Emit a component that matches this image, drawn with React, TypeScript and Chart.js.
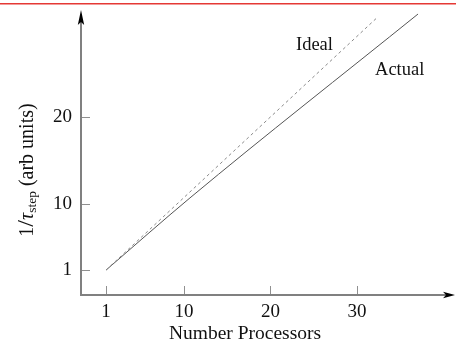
import React, { useEffect, useRef } from "react";
import { Chart, registerables } from "chart.js";

Chart.register(...registerables);

// ---- data ----
const xTickValues = [1, 10, 20, 30];
const xTickLabels = ["1", "10", "20", "30"];
const yTickValues = [2.4, 10, 20];
const yTickLabels = ["1", "10", "20"];

const idealX = [1, 32.4];
const idealY = [2.4, 31.5];
const actualX = [1, 10.7, 37.05];
const actualY = [2.4, 10.7, 31.84];

const seriesNames = ["Ideal", "Actual"];
const labelAnchorX = [22.95, 32.08];
const labelAnchorY = [28.3, 25.4];

const xTitle = "Number Processors";

const FONT = "'Liberation Serif', 'Times New Roman', serif";

const decorPlugin = {
  id: "decor",
  afterDraw(chart: any) {
    const ctx = chart.ctx as CanvasRenderingContext2D;
    const xs = chart.scales.x;
    const ys = chart.scales.y;
    const ca = chart.chartArea;
    const axisX = ca.left;
    const axisY = ca.bottom;
    ctx.save();

    // red top rule
    ctx.fillStyle = "#e53935";
    ctx.fillRect(0, 3, chart.width, 1.5);

    // axes
    ctx.strokeStyle = "#808080";
    ctx.lineWidth = 2;
    ctx.beginPath();
    ctx.moveTo(axisX, axisY);
    ctx.lineTo(axisX, ca.top + 8);
    ctx.moveTo(axisX - 1, axisY);
    ctx.lineTo(ca.right - 6, axisY);
    ctx.stroke();

    // arrowheads
    ctx.fillStyle = "#000";
    ctx.beginPath();
    ctx.moveTo(axisX, ca.top);
    ctx.lineTo(axisX + 3.2, ca.top + 15);
    ctx.lineTo(axisX, ca.top + 12);
    ctx.lineTo(axisX - 3.2, ca.top + 15);
    ctx.closePath();
    ctx.fill();
    ctx.beginPath();
    ctx.moveTo(ca.right, axisY);
    ctx.lineTo(ca.right - 12, axisY - 3.2);
    ctx.lineTo(ca.right - 9, axisY);
    ctx.lineTo(ca.right - 12, axisY + 3.2);
    ctx.closePath();
    ctx.fill();

    // inner tick marks
    ctx.strokeStyle = "#909090";
    ctx.lineWidth = 1;
    ctx.beginPath();
    for (const v of xTickValues) {
      const px = Math.round(xs.getPixelForValue(v)) + 0.5;
      ctx.moveTo(px, axisY - 1);
      ctx.lineTo(px, axisY - 9);
    }
    for (const v of yTickValues) {
      const py = Math.round(ys.getPixelForValue(v)) + 0.5;
      ctx.moveTo(axisX + 1, py);
      ctx.lineTo(axisX + 9, py);
    }
    ctx.stroke();

    // series labels
    ctx.fillStyle = "#111";
    ctx.font = `18.5px ${FONT}`;
    ctx.textAlign = "left";
    ctx.textBaseline = "middle";
    seriesNames.forEach((n, i) => {
      ctx.fillText(n, xs.getPixelForValue(labelAnchorX[i]), ys.getPixelForValue(labelAnchorY[i]));
    });

    // x title
    ctx.font = `19.5px ${FONT}`;
    ctx.textAlign = "center";
    ctx.textBaseline = "alphabetic";
    ctx.fillText(xTitle, 245, 339);

    // y title: 1/τ_step (arb units)
    ctx.translate(27, 170);
    ctx.rotate(-Math.PI / 2);
    const parts: { t: string; f: string; dy: number }[] = [
      { t: "1", f: `20px ${FONT}`, dy: 0 },
      { t: "/", f: `24px ${FONT}`, dy: 0 },
      { t: "τ", f: `italic 20px ${FONT}`, dy: 0 },
      { t: "step", f: `13.5px ${FONT}`, dy: 3 },
      { t: " (arb units)", f: `20px ${FONT}`, dy: 0 },
    ];
    let total = 0;
    for (const p of parts) {
      ctx.font = p.f;
      total += ctx.measureText(p.t).width;
    }
    let cx = -total / 2;
    ctx.textAlign = "left";
    ctx.textBaseline = "alphabetic";
    for (const p of parts) {
      ctx.font = p.f;
      ctx.fillText(p.t, cx, 6 + p.dy);
      cx += ctx.measureText(p.t).width;
    }
    ctx.restore();
  },
};

export default function App() {
  const ref = useRef<HTMLCanvasElement | null>(null);
  useEffect(() => {
    document.body.style.margin = "0";
    const canvas = ref.current;
    if (!canvas) return;
    const tickFont = { family: FONT, size: 19 };
    const chart = new Chart(canvas, {
      type: "line",
      data: {
        datasets: [
          {
            label: "Ideal",
            data: idealX.map((x, i) => ({ x, y: idealY[i] })),
            borderColor: "#8a8a8a",
            borderWidth: 1,
            borderDash: [3, 3],
            pointRadius: 0,
            fill: false,
          },
          {
            label: "Actual",
            data: actualX.map((x, i) => ({ x, y: actualY[i] })),
            borderColor: "#555",
            borderWidth: 1,
            pointRadius: 0,
            cubicInterpolationMode: "monotone",
            fill: false,
          },
        ],
      },
      options: {
        responsive: false,
        animation: false,
        layout: { padding: { top: 10, right: 1, left: 0, bottom: 0 } },
        plugins: { legend: { display: false }, tooltip: { enabled: false }, title: { display: false } },
        scales: {
          x: {
            type: "linear",
            min: -1.889,
            max: 41.32,
            border: { display: false },
            grid: { display: false, drawTicks: false },
            ticks: {
              padding: 6,
              font: tickFont,
              color: "#111",
              maxRotation: 0,
              autoSkip: false,
              callback: (_v: any, i: number) => xTickLabels[i],
            },
            afterBuildTicks: (s: any) => {
              s.ticks = xTickValues.map((v) => ({ value: v }));
            },
            afterFit: (s: any) => {
              s.height = 48;
              s.paddingLeft = 0;
              s.paddingRight = 0;
              s.paddingTop = 0;
              s.paddingBottom = 0;
            },
          },
          y: {
            type: "linear",
            min: -0.46,
            max: 32.3,
            border: { display: false },
            grid: { display: false, drawTicks: false },
            ticks: {
              padding: 9,
              font: tickFont,
              color: "#111",
              autoSkip: false,
              callback: (_v: any, i: number) => yTickLabels[i],
            },
            afterBuildTicks: (s: any) => {
              s.ticks = yTickValues.map((v) => ({ value: v }));
            },
            afterFit: (s: any) => {
              s.width = 81;
              s.paddingLeft = 0;
              s.paddingRight = 0;
              s.paddingTop = 0;
              s.paddingBottom = 0;
            },
          },
        },
      },
      plugins: [decorPlugin],
    } as any);
    return () => chart.destroy();
  }, []);
  return (
    <div style={{ position: "absolute", left: 0, top: 0, width: 456, height: 343 }}>
      <canvas ref={ref} width={456} height={343} style={{ width: 456, height: 343, display: "block" }} />
    </div>
  );
}
